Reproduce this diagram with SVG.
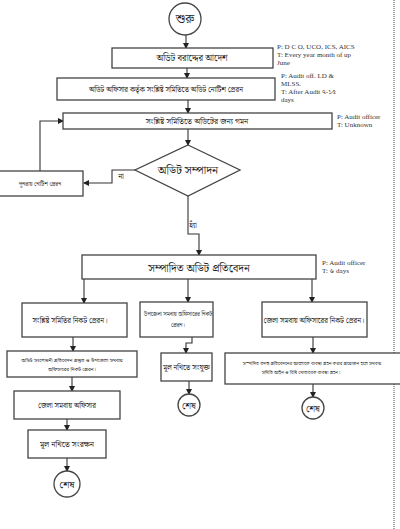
<svg xmlns="http://www.w3.org/2000/svg" width="400" height="529" viewBox="0 0 400 529">
<defs>
<marker id="ah" markerWidth="6" markerHeight="6" refX="5" refY="3" orient="auto" markerUnits="userSpaceOnUse">
<path d="M0,0 L6,3 L0,6 z" fill="#222"/>
</marker>
<style>
.bx{fill:#fff;stroke:#444;stroke-width:1.3}
.cn{fill:none;stroke:#333;stroke-width:1.1;marker-end:url(#ah)}
.bn{font-family:"Noto Serif Bengali","Noto Sans Bengali","Lohit Bengali","FreeSerif","Noto Sans",sans-serif;fill:#222;text-anchor:middle}
.nt{font-family:"Liberation Serif",serif;font-size:7px;fill:#333}
.ntb{font-family:"Liberation Serif","Noto Serif Bengali","Noto Sans Bengali",serif;font-size:7px;fill:#333}
</style>
</defs>
<rect width="400" height="529" fill="#fff"/>
<line x1="394" y1="0" x2="394" y2="529" stroke="#222" stroke-width="0.8" stroke-dasharray="1,1"/>

<g id="connectors">
<path class="cn" d="M186,35 V48"/>
<path class="cn" d="M187,68 V78"/>
<path class="cn" d="M188,100 V113"/>
<path class="cn" d="M188,129 V145"/>
<path class="cn" d="M135,170 H112 V183 H84"/>
<path class="cn" d="M40,171 V121 H63"/>
<path class="cn" d="M188,196 V234 H199 V255"/>
<path class="cn" d="M84,279 V303"/>
<path class="cn" d="M188,279 V302"/>
<path class="cn" d="M312,279 V302"/>
<path class="cn" d="M73,337 V351"/>
<path class="cn" d="M72,377 V391"/>
<path class="cn" d="M67,419 V430"/>
<path class="cn" d="M67,458 V471"/>
<path class="cn" d="M192,337 V343 H186 V353"/>
<path class="cn" d="M189,381 V394"/>
<path class="cn" d="M313,337 V353"/>
<path class="cn" d="M313,384 V397"/>
<text class="bn" x="121" y="179" font-size="8">না</text>
<text class="bn" x="193" y="228" font-size="8">হ্যাঁ</text>
</g>

<g id="start">
<circle cx="185" cy="19" r="16" class="bx"/>
<text class="bn" x="185" y="23" font-size="12">শুরু</text>
</g>

<g id="n1">
<rect class="bx" x="112" y="48" width="161" height="20"/>
<text class="bn" x="192" y="61" font-size="9">অডিট বরাদ্দের আদেশ</text>
</g>
<g id="note1">
<text class="nt" x="277" y="49">P: D C O, UCO, ICS, AICS</text>
<text class="nt" x="277" y="57">T: Every year month of up</text>
<text class="nt" x="277" y="65">June</text>
</g>

<g id="n2">
<rect class="bx" x="57" y="78" width="218" height="22"/>
<text class="bn" x="166" y="92" font-size="7.3">অডিট অফিসার কর্তৃক সংশ্লিষ্ট সমিতিতে অডিট নোটিশ প্রেরন</text>
</g>
<g id="note2">
<text class="nt" x="281" y="78">P: Audit off. LD &amp;</text>
<text class="nt" x="281" y="86">MLSS.</text>
<text class="ntb" x="281" y="94">T: After Audit ৭-১৫</text>
<text class="nt" x="281" y="102">days</text>
</g>

<g id="n3">
<rect class="bx" x="63" y="113" width="269" height="16"/>
<text class="bn" x="197" y="124" font-size="8">সংশ্লিষ্ট সমিতিতে অডিটের জন্য গমন</text>
</g>
<g id="note3">
<text class="nt" x="337" y="119">P: Audit officer</text>
<text class="nt" x="337" y="127">T: Unknown</text>
</g>

<g id="decision">
<polygon class="bx" points="188,145 240,170 188,196 135,170"/>
<text class="bn" x="188" y="174" font-size="11.5">অডিট সম্পাদন</text>
</g>

<g id="renotice">
<rect class="bx" x="-2" y="171" width="85" height="25"/>
<text class="bn" x="40" y="186" font-size="5.7">পুনরায় নোটিশ প্রেরন</text>
</g>

<g id="report">
<rect class="bx" x="82" y="255" width="234" height="24"/>
<text class="bn" x="199" y="272" font-size="11">সম্পাদিত অডিট প্রতিবেদন</text>
</g>
<g id="note4">
<text class="nt" x="322" y="265">P: Audit officer</text>
<text class="ntb" x="322" y="273">T: ৬ days</text>
</g>

<g id="c1">
<rect class="bx" x="22" y="303" width="105" height="34"/>
<text class="bn" x="70" y="323" font-size="7.3">সংশ্লিষ্ট সমিতির নিকট প্রেরন।</text>
</g>
<g id="c2">
<rect class="bx" x="140" y="302" width="73" height="35"/>
<text class="bn" x="178" y="316" font-size="5.6">উপজেলা সমবায় অফিসারের নিকট</text>
<text class="bn" x="178" y="327" font-size="5.6">প্রেরন।</text>
</g>
<g id="c3">
<rect class="bx" x="262" y="302" width="105" height="35"/>
<text class="bn" x="314" y="323" font-size="7.3">জেলা সমবায় অফিসারের নিকট প্রেরন।</text>
</g>

<g id="l1">
<rect class="bx" x="7" y="351" width="130" height="26"/>
<text class="bn" x="72" y="362" font-size="5.4">অডিট সংশোধনী প্রতিবেদন প্রস্তুত ও উপজেলা সমবায়</text>
<text class="bn" x="72" y="371" font-size="5.4">অফিসারের নিকট প্রেরন।</text>
</g>
<g id="l2">
<rect class="bx" x="14" y="391" width="106" height="28"/>
<text class="bn" x="67" y="408" font-size="7.3">জেলা সমবায় অফিসার</text>
</g>
<g id="l3">
<rect class="bx" x="28" y="430" width="78" height="28"/>
<text class="bn" x="67" y="447" font-size="8">মূল নথিতে সংরক্ষন</text>
</g>
<g id="end1">
<circle class="bx" cx="67" cy="484" r="13"/>
<text class="bn" x="67" y="488" font-size="10">শেষ</text>
</g>

<g id="m1">
<rect class="bx" x="161" y="353" width="51" height="28"/>
<text class="bn" x="186.5" y="370" font-size="7.3">মূল নথিতে সংযুক্ত</text>
</g>
<g id="end2">
<circle class="bx" cx="189" cy="405" r="11"/>
<text class="bn" x="189" y="409" font-size="9">শেষ</text>
</g>

<g id="r1">
<rect class="bx" x="225" y="353" width="190" height="31"/>
<text class="bn" x="312" y="365" font-size="5">সম্পাদিত তদন্ত প্রতিবেদনের আলোকে ব্যবস্থা গ্রহন করার প্রয়োজন হলে সমবায়</text>
<text class="bn" x="301" y="374" font-size="5">সমিতি আইন ও বিধি মোতাবেক ব্যবস্থা গ্রহন।</text>
</g>
<g id="end3">
<circle class="bx" cx="313" cy="408" r="11"/>
<text class="bn" x="313" y="412" font-size="9">শেষ</text>
</g>
</svg>
